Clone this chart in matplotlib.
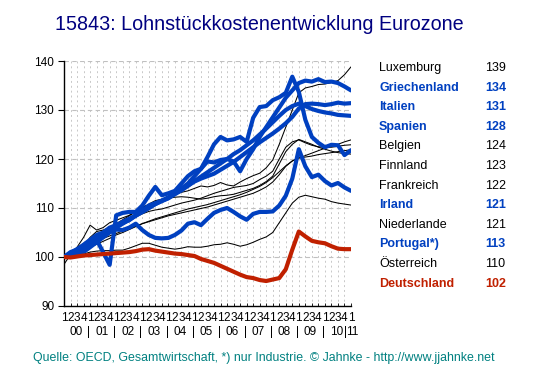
import numpy as np
import matplotlib.pyplot as plt

plt.rcParams['font.family'] = ['Liberation Sans', 'DejaVu Sans']

# Quartale 2000Q1 .. 2011Q1
quartale = ['1', '2', '3', '4'] * 11 + ['1']
jahre = ['00', '01', '02', '03', '04', '05', '06', '07', '08', '09', '10', '11']

# Lohnstückkosten, 2000 = 100
luxemburg = [98.5, 100.5, 102.0, 104.0, 106.5, 105.5, 106.0, 107.0, 107.5, 108.0, 108.5, 109.5,
             110.3, 110.5, 111.0, 111.5, 112.0, 112.8, 113.2, 113.5, 114.0, 114.5, 114.3, 114.6,
             115.2, 114.7, 114.5, 115.3, 116.0, 116.6, 117.1, 118.2, 119.8, 123.0, 126.5, 130.0,
             133.5, 134.5, 134.8, 135.2, 135.3, 135.6, 136.0, 137.2, 138.8]
griechenland = [100.0, 101.0, 101.5, 102.5, 103.5, 104.5, 105.0, 106.0, 106.5, 107.0, 107.5, 108.5,
                109.5, 110.5, 111.0, 111.5, 112.0, 113.0, 114.0, 115.0, 116.5, 118.0, 119.5, 119.3,
                119.8, 120.0, 119.5, 117.5, 120.0, 122.0, 124.5, 126.5, 128.5, 130.5, 132.5, 134.0,
                135.5, 136.0, 135.8, 136.3, 135.7, 135.8, 135.5, 134.8, 134.0]
italien = [100.0, 100.6, 101.3, 102.0, 102.8, 103.6, 104.4, 105.2, 106.0, 106.8, 107.6, 108.4,
           109.2, 110.0, 110.8, 111.5, 112.2, 113.0, 113.8, 114.6, 115.4, 116.0, 116.5, 117.0,
           117.8, 118.6, 119.4, 120.4, 121.4, 122.4, 123.4, 124.3, 125.2, 126.2, 127.3, 128.6,
           130.3, 131.2, 131.3, 131.2, 131.0, 131.2, 131.5, 131.3, 131.4]
spanien = [100.0, 100.8, 101.6, 102.4, 103.2, 104.0, 104.8, 105.6, 106.4, 107.2, 107.8, 108.5,
           109.2, 110.0, 110.8, 111.4, 112.0, 112.8, 113.6, 114.5, 115.5, 116.4, 117.3, 118.2,
           119.1, 120.0, 121.0, 121.8, 122.8, 123.8, 125.0, 126.2, 127.5, 128.8, 130.0, 130.8,
           131.3, 130.8, 130.2, 129.8, 129.5, 129.3, 129.0, 128.9, 128.8]
belgien = [100.0, 100.4, 100.8, 101.3, 102.0, 102.6, 103.2, 103.8, 104.5, 105.0, 105.6, 106.2,
           106.8, 107.3, 107.8, 108.2, 108.6, 109.0, 109.4, 109.8, 110.1, 110.4, 110.7, 111.1,
           111.5, 111.9, 112.3, 112.7, 113.2, 113.8, 114.4, 115.2, 116.2, 117.4, 118.6, 119.6,
           120.2, 120.7, 121.2, 121.7, 122.2, 122.6, 123.0, 123.5, 123.9]
finnland = [100.0, 100.8, 101.5, 102.3, 104.0, 105.2, 105.5, 106.0, 106.6, 107.2, 107.8, 108.2,
            108.8, 109.3, 109.6, 109.8, 110.2, 110.6, 111.0, 111.3, 111.6, 112.0, 112.5, 113.0,
            113.4, 113.8, 114.2, 114.4, 114.6, 115.0, 115.8, 116.5, 117.5, 120.0, 122.4, 123.5,
            123.9, 123.3, 122.8, 122.5, 122.4, 122.4, 122.6, 122.8, 122.9]
frankreich = [100.0, 100.6, 101.2, 101.8, 102.5, 103.2, 103.8, 104.3, 104.8, 105.3, 105.8, 106.3,
              106.8, 107.2, 107.6, 108.0, 108.4, 108.7, 109.0, 109.3, 109.6, 109.9, 110.2, 110.6,
              111.0, 111.4, 111.8, 112.2, 112.6, 113.0, 113.6, 114.3, 115.3, 116.8, 118.5, 119.6,
              120.2, 120.4, 120.6, 120.9, 121.1, 121.3, 121.5, 121.7, 121.9]
irland = [100.0, 100.5, 101.0, 101.5, 102.5, 103.5, 101.0, 98.4, 108.5, 109.0, 109.2, 109.2,
          110.5, 112.5, 114.3, 112.6, 113.0, 113.5, 115.0, 116.5, 117.5, 118.0, 120.4, 123.0,
          124.5, 123.8, 124.0, 124.5, 123.5, 128.4, 130.6, 130.8, 132.0, 132.6, 133.5, 136.8,
          133.7, 128.0, 124.5, 123.3, 122.4, 122.9, 122.8, 120.8, 121.8]
niederlande = [99.5, 100.5, 101.5, 102.5, 103.5, 104.5, 105.3, 106.0, 106.8, 107.6, 108.4, 109.2,
               110.0, 110.8, 111.5, 111.8, 112.0, 112.2, 112.3, 112.2, 112.0, 111.8, 112.0, 112.3,
               112.5, 112.6, 112.8, 113.2, 113.6, 114.0, 114.6, 115.4, 116.5, 119.0, 121.5, 123.0,
               124.0, 123.5, 123.0, 122.4, 122.0, 121.6, 121.3, 121.1, 121.0]
portugal = [100.0, 100.5, 100.3, 101.0, 102.0, 103.0, 104.0, 105.0, 105.6, 105.5, 106.0, 106.8,
            105.5, 104.5, 103.9, 103.8, 103.9, 104.5, 105.4, 106.8, 107.1, 106.5, 107.8, 109.0,
            109.6, 110.0, 109.2, 108.3, 107.6, 108.8, 109.2, 109.2, 109.3, 110.5, 112.5, 116.0,
            122.0, 118.5, 116.3, 116.8, 115.5, 114.6, 115.1, 114.2, 113.5]
oesterreich = [100.0, 99.8, 100.3, 100.6, 101.0, 101.2, 101.3, 101.3, 101.4, 101.4, 101.8, 102.3,
               102.8, 102.8, 102.4, 102.0, 101.8, 101.6, 101.8, 102.1, 102.0, 102.0, 102.2, 102.5,
               102.6, 102.9, 102.6, 102.2, 102.5, 103.0, 103.6, 104.1, 105.0, 107.0, 109.0, 111.0,
               112.2, 112.6, 112.3, 112.0, 111.8, 111.3, 111.0, 110.8, 110.6]
deutschland = [100.0, 99.9, 100.1, 100.3, 100.4, 100.5, 100.6, 100.7, 100.8, 100.9, 101.0, 101.2,
               101.5, 101.6, 101.3, 101.1, 100.9, 100.7, 100.6, 100.4, 100.2, 99.6, 99.2, 98.8,
               98.2, 97.6, 97.0, 96.4, 95.9, 95.7, 95.3, 95.1, 95.4, 95.7, 97.5, 101.5,
               105.2, 104.2, 103.3, 103.0, 102.8, 102.2, 101.7, 101.6, 101.6]

laender = ['Luxemburg', 'Griechenland', 'Italien', 'Spanien', 'Belgien', 'Finnland',
           'Frankreich', 'Irland', 'Niederlande', 'Portugal*)', 'Österreich', 'Deutschland']
endwerte = [139, 134, 131, 128, 124, 123, 122, 121, 121, 113, 110, 102]
reihen = [luxemburg, griechenland, italien, spanien, belgien, finnland,
          frankreich, irland, niederlande, portugal, oesterreich, deutschland]

BLAU = '#0040c0'
ROT = '#c02000'
farben = ['black', BLAU, BLAU, BLAU, 'black', 'black', 'black', BLAU, 'black', BLAU, 'black', ROT]

W, H = 553, 376
fig = plt.figure(figsize=(W / 100, H / 100), dpi=100)
ax = fig.add_axes([64 / W, 70 / H, 287 / W, 245 / H])

x = np.arange(len(quartale))

# erst dünne schwarze, dann blaue, dann rote Linie
for stufe in ['black', BLAU, ROT]:
    for werte, f in zip(reihen, farben):
        if f != stufe:
            continue
        lw = 0.75 if f == 'black' else 3.0
        ax.plot(x, werte, color=f, lw=lw, solid_joinstyle='round', solid_capstyle='round', zorder=3)

ax.set_xlim(0, 44)
ax.set_ylim(90, 140)
ax.set_yticks(range(90, 141, 10))
ax.set_xticks(x)
ax.set_xticklabels(quartale)
ax.tick_params(axis='y', labelsize=8.5, length=4, width=0.8, pad=3)
ax.tick_params(axis='x', labelsize=8.5, length=2, direction='in', width=0.6, pad=4)

ax.yaxis.grid(True, ls=(0, (4, 3)), color='#c0c0c0', lw=0.8)
ax.xaxis.grid(True, ls=(0, (2, 3)), color='#c8c8c8', lw=0.7)
ax.set_axisbelow(True)
for s in ['top', 'right']:
    ax.spines[s].set_visible(False)
ax.spines['left'].set_linewidth(1.0)
ax.spines['bottom'].set_linewidth(1.0)

# Jahreszeile unter den Quartalen
tr = ax.get_xaxis_transform()
for k, j in enumerate(jahre):
    pos = 44.2 if j == '11' else 1.8 + 4 * k
    ax.text(pos, -0.108, j, transform=tr, ha='center', va='center', fontsize=8.5)
for k in range(11):
    pos = 43.1 if k == 10 else 3.8 + 4 * k
    ax.text(pos, -0.108, '|', transform=tr, ha='center', va='center', fontsize=8.5)

# Legende rechts
for n, (name, wert, f) in enumerate(zip(laender, endwerte, farben)):
    yy = 1 - (68 + n * 19.6) / H
    fw = 'normal' if f == 'black' else 'bold'
    fig.text(379 / W, yy, name, color=f, fontsize=9, fontweight=fw, va='center', ha='left')
    fig.text(485 / W, yy, str(wert), color=f, fontsize=9, fontweight=fw, va='center', ha='left')

fig.text(259 / W, 1 - 24 / H, '15843: Lohnstückkostenentwicklung Eurozone',
         color='#000080', fontsize=14.2, ha='center', va='center')
fig.text(264 / W, 1 - 358 / H,
         'Quelle: OECD, Gesamtwirtschaft, *) nur Industrie. © Jahnke - http://www.jjahnke.net',
         color='#008080', fontsize=8.9, ha='center', va='center')

fig.savefig('out.png', dpi=100)
